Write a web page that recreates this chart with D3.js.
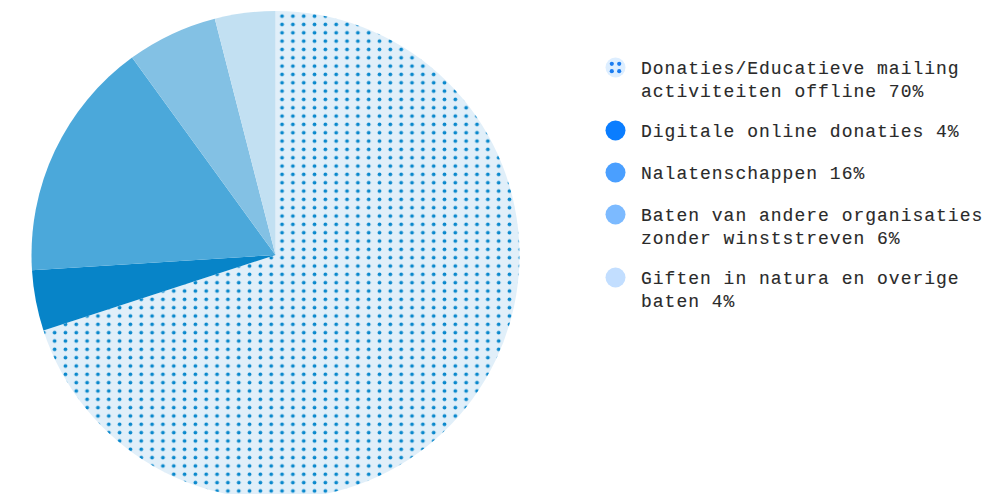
<!DOCTYPE html>
<html lang="nl">
<head>
<meta charset="UTF-8">
<title>Baten</title>
<style>
    body { margin: 0; background: #fff; }
    .legend text {
        font-family: "Liberation Mono", "DejaVu Sans Mono", monospace;
        font-size: 18px;
        letter-spacing: 1px;
        fill: #2a2a2a;
        stroke: #2a2a2a;
        stroke-width: 0.12px;
    }
</style>
</head>
<body>
<svg id="chart" width="988" height="494"></svg>
<script src="https://d3js.org/d3.v7.min.js"></script>
<script>
// data
var labels = [
    "Donaties/Educatieve mailing\nactiviteiten offline 70%",
    "Digitale online donaties 4%",
    "Nalatenschappen 16%",
    "Baten van andere organisaties\nzonder winststreven 6%",
    "Giften in natura en overige\nbaten 4%"
];
var values = [70, 4, 16, 6, 4];
var sliceColors = ["url(#dots)", "#0784c8", "#4ba8da", "#83c1e4", "#c2e0f2"];
var legendColors = ["#ddeeff", "#0a7dff", "#4a9fff", "#7cbaff", "#c2deff"];

var svg = d3.select("#chart");

// dotted fill for the big slice
var defs = svg.append("defs");
var pat = defs.append("pattern")
    .attr("id", "dots")
    .attr("patternUnits", "userSpaceOnUse")
    .attr("x", 271.9)
    .attr("y", 98.5)
    .attr("width", 10.83)
    .attr("height", 8.33);
pat.append("rect")
    .attr("width", 10.83)
    .attr("height", 8.33)
    .attr("fill", "#e1eff9");
pat.append("circle")
    .attr("cx", 5.41)
    .attr("cy", 4.17)
    .attr("r", 1.9)
    .attr("fill", "#0a88cc");

var cx = 275.5, cy = 255, radius = 244;

var pie = d3.pie().sort(null).value(function(d) { return d; });
var arc = d3.arc().innerRadius(0).outerRadius(radius);

var g = svg.append("g")
    .attr("transform", "translate(" + cx + "," + cy + ")");

g.selectAll("path")
    .data(pie(values))
    .enter().append("path")
    .attr("d", arc)
    .attr("fill", function(d, i) { return sliceColors[i]; });

// legend
var legend = svg.append("g").attr("class", "legend");
var lineH = 23.5;
var y = 67.5;

labels.forEach(function(lab, i) {
    var lines = lab.split("\n");
    var item = legend.append("g").attr("transform", "translate(0," + y + ")");

    item.append("circle")
        .attr("cx", 615.5)
        .attr("cy", 0)
        .attr("r", 10)
        .attr("fill", legendColors[i]);

    if (i == 0) {
        [[-3.7, -3.7], [3.7, -3.7], [-3.7, 3.7], [3.7, 3.7]].forEach(function(p) {
            item.append("circle")
                .attr("cx", 615.5 + p[0])
                .attr("cy", p[1])
                .attr("r", 2.1)
                .attr("fill", "#1a7cf0");
        });
    }

    var t = item.append("text")
        .attr("x", 641)
        .attr("y", 6.2);
    lines.forEach(function(l, j) {
        t.append("tspan")
            .attr("x", 641)
            .attr("dy", j == 0 ? 0 : lineH)
            .text(l);
    });

    y += 21 + 21 * lines.length;
});
</script>
</body>
</html>
